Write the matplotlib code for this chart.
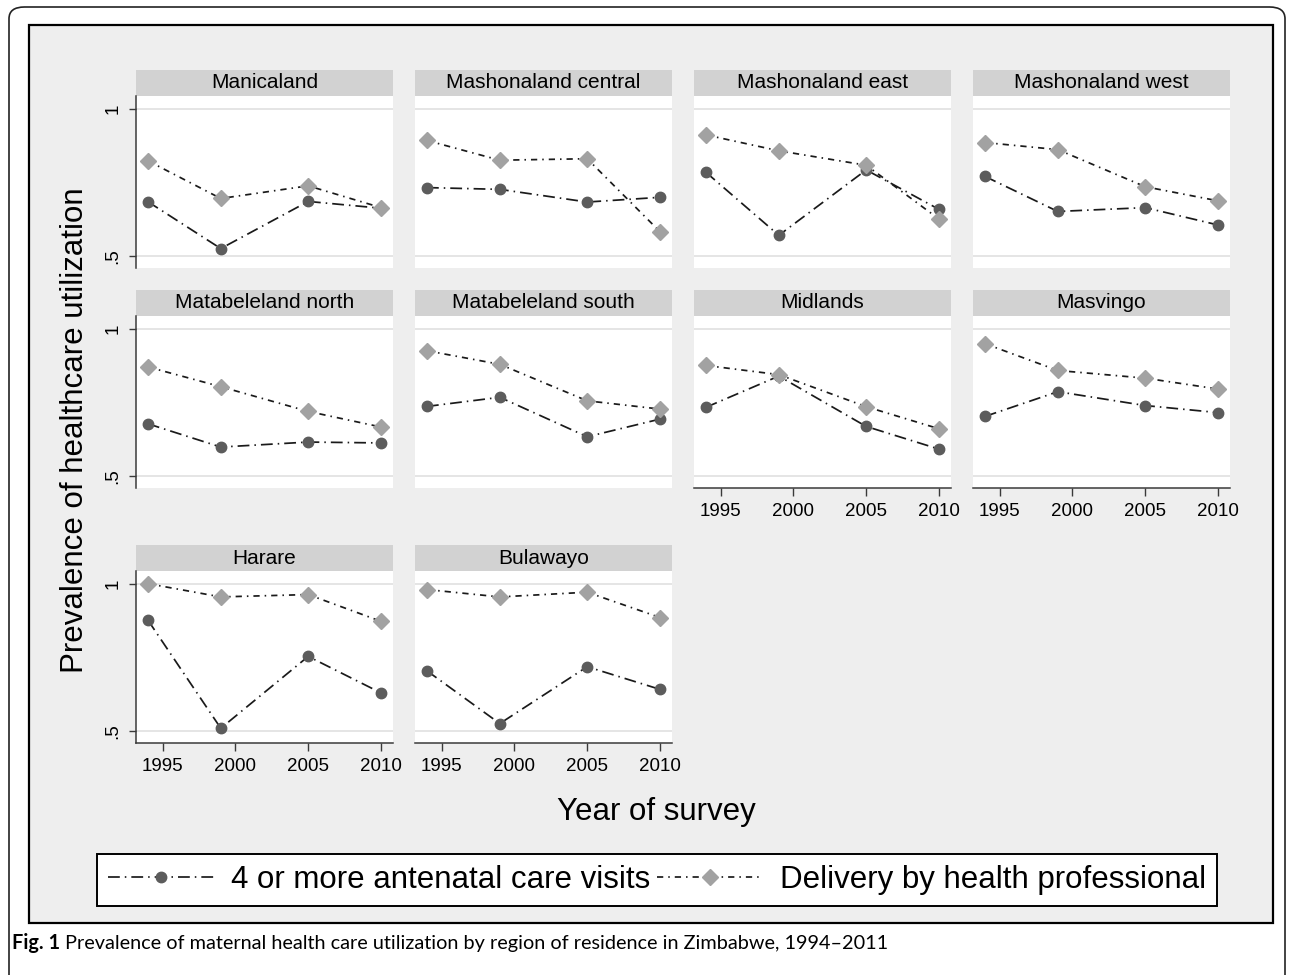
import matplotlib
matplotlib.use("Agg")
import matplotlib.pyplot as plt
from matplotlib.patches import Rectangle, FancyBboxPatch

plt.rcParams['font.family'] = ['Liberation Sans', 'DejaVu Sans']
plt.rcParams['lines.scale_dashes'] = False

regions = ["Manicaland", "Mashonaland central", "Mashonaland east", "Mashonaland west",
           "Matabeleland north", "Matabeleland south", "Midlands", "Masvingo",
           "Harare", "Bulawayo"]
years = [1994, 1999, 2005, 2010]

# 4 or more antenatal care visits
anc_visits = [
    [0.684, 0.525, 0.685, 0.662],
    [0.732, 0.726, 0.683, 0.699],
    [0.784, 0.570, 0.792, 0.658],
    [0.770, 0.651, 0.664, 0.605],
    [0.677, 0.598, 0.615, 0.612],
    [0.736, 0.767, 0.633, 0.693],
    [0.733, 0.839, 0.668, 0.591],
    [0.702, 0.786, 0.739, 0.715],
    [0.876, 0.509, 0.753, 0.629],
    [0.704, 0.525, 0.718, 0.641],
]
# delivery by health professional
delivery = [
    [0.823, 0.695, 0.738, 0.664],
    [0.892, 0.825, 0.830, 0.582],
    [0.911, 0.857, 0.808, 0.625],
    [0.885, 0.861, 0.735, 0.687],
    [0.870, 0.803, 0.719, 0.666],
    [0.925, 0.879, 0.755, 0.727],
    [0.875, 0.844, 0.735, 0.660],
    [0.949, 0.858, 0.832, 0.795],
    [1.000, 0.955, 0.963, 0.872],
    [0.980, 0.955, 0.971, 0.885],
]
xticks = [1995, 2000, 2005, 2010]
yticks = [0.5, 1.0]
ytick_labels = [".5", "1"]

W, H = 1290, 975
col_left = [136, 415, 694, 973]
row_top = [70, 290, 545]
panel_w, strip_h, plot_h = 257, 26, 172

line_col = "#1a1a1a"
anc_style = dict(color=line_col, lw=1.25, dashes=(8.5, 3.6, 1.1, 3.6), marker="o",
                 ms=7.5, mfc="#5c5c5c", mec="#5c5c5c")
del_style = dict(color=line_col, lw=1.25, dashes=(4.5, 3.6, 1.1, 3.6), marker="D",
                 ms=8.3, mfc="#a2a2a2", mec="#a2a2a2")


def px_rect(x0, y0, w, h):
    # pixel box (top-left origin) -> figure fraction
    return [x0 / W, 1 - (y0 + h) / H, w / W, h / H]


fig = plt.figure(figsize=(12.9, 9.75), dpi=100)
fig.patch.set_facecolor("white")

# outer rounded border and grey graph region
fig.patches.append(FancyBboxPatch((9 / W, -0.05), 1276 / W, 1 - 7 / H + 0.05,
                                  boxstyle="round,pad=0,rounding_size=0.012",
                                  transform=fig.transFigure, fill=False,
                                  ec="#222222", lw=1.2, zorder=-3))
fig.patches.append(Rectangle((29 / W, 1 - 923 / H), 1244 / W, 898 / H,
                             transform=fig.transFigure, fc="#eeeeee", ec="black",
                             lw=1.6, zorder=-2))

handles = None
for i, name in enumerate(regions):
    r, c = divmod(i, 4)
    x0 = col_left[c]
    y0 = row_top[r]

    sax = fig.add_axes(px_rect(x0, y0, panel_w, strip_h))
    sax.set_facecolor("#d2d2d2")
    sax.set_xticks([])
    sax.set_yticks([])
    for s in sax.spines.values():
        s.set_visible(False)
    sax.text(0.5, 0.5, name, ha="center", va="center", fontsize=15,
             transform=sax.transAxes)

    ax = fig.add_axes(px_rect(x0, y0 + strip_h, panel_w, plot_h))
    ax.set_facecolor("white")
    ax.set_xlim(1993.18, 2010.82)
    ax.set_ylim(0.459, 1.043)
    for yv in yticks:
        ax.axhline(yv, color="#e3e3e3", lw=1.3, zorder=1)
    l1, = ax.plot(years, anc_visits[i], zorder=3, **anc_style)
    l2, = ax.plot(years, delivery[i], zorder=4, **del_style)
    handles = [l1, l2]

    for s in ax.spines.values():
        s.set_visible(False)
    show_x = (r == 2) or (r == 1 and c >= 2)
    show_y = (c == 0)
    if show_x:
        ax.spines["bottom"].set_visible(True)
        ax.spines["bottom"].set_color("#3a3a3a")
        ax.spines["bottom"].set_linewidth(1.1)
        ax.set_xticks(xticks)
        ax.tick_params(axis="x", length=5.8, width=1.0, color="#3a3a3a",
                       labelsize=13.5, pad=5)
    else:
        ax.set_xticks([])
    if show_y:
        ax.spines["left"].set_visible(True)
        ax.spines["left"].set_color("#3a3a3a")
        ax.spines["left"].set_linewidth(1.1)
        ax.set_yticks(yticks)
        ax.set_yticklabels(ytick_labels, rotation=90, va="center")
        ax.tick_params(axis="y", length=5.4, width=1.0, color="#3a3a3a",
                       labelsize=13.5, pad=5)
    else:
        ax.set_yticks([])

fig.text(75 / W, 1 - 430 / H, "Prevalence of healthcare utilization", rotation=90,
         ha="center", va="center", fontsize=22.5)
fig.text(656 / W, 1 - 812 / H, "Year of survey", ha="center", va="center", fontsize=22.5)

leg = fig.legend(handles, ["4 or more antenatal care visits", "Delivery by health professional"],
                 loc="center", bbox_to_anchor=(657 / W, 1 - 880 / H), ncol=2,
                 fontsize=22.5, handlelength=3.4, handletextpad=0.55, columnspacing=0.2,
                 borderpad=0.35, numpoints=1, fancybox=False, framealpha=1,
                 edgecolor="black", borderaxespad=0)
leg.get_frame().set_linewidth(1.4)

# caption: bold "Fig. 1" followed by regular text
t1 = fig.text(12 / W, 1 - 943 / H, "Fig. 1", fontsize=14.3, fontweight="bold",
              family="Lato", va="center", ha="left")
fig.canvas.draw()
bb = t1.get_window_extent(renderer=fig.canvas.get_renderer())
fig.text((bb.x1 + 5) / W, 1 - 943 / H,
         "Prevalence of maternal health care utilization by region of residence in Zimbabwe, 1994\u20132011",
         fontsize=14.3, family="Lato", va="center", ha="left")

fig.savefig("out.png", dpi=100)
